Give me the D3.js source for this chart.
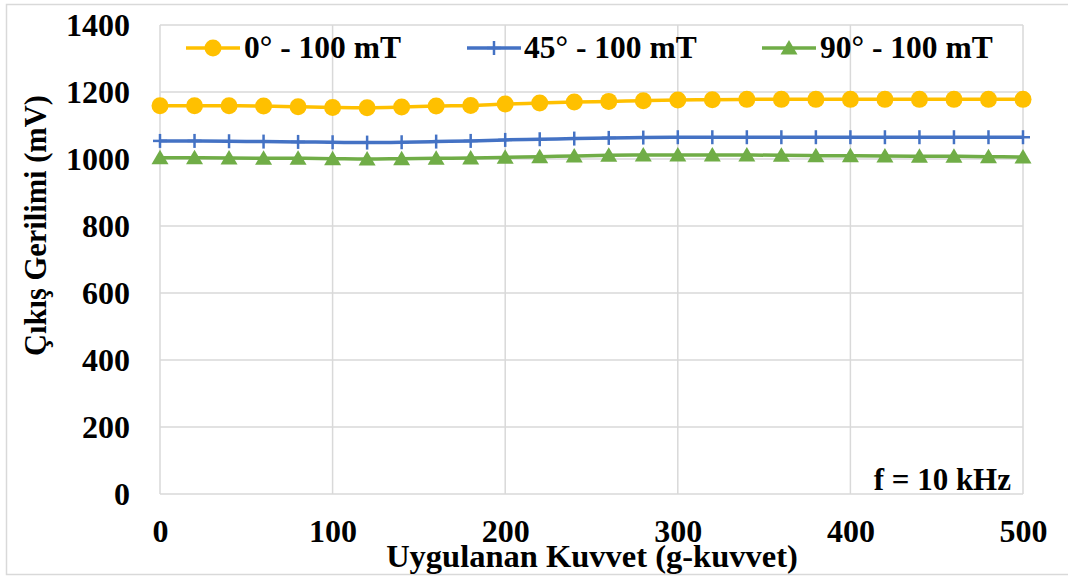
<!DOCTYPE html>
<html>
<head>
<meta charset="utf-8">
<script src="https://cdn.jsdelivr.net/npm/d3@7"></script>
<style>
  html, body { margin: 0; padding: 0; background: #fff; }
</style>
</head>
<body>
<svg id="chart" width="1068" height="576"></svg>
<script>
// Applied force (g-force) and output voltage (mV) for three field orientations
const force = [0, 20, 40, 60, 80, 100, 120, 140, 160, 180, 200, 220, 240, 260, 280, 300,
               320, 340, 360, 380, 400, 420, 440, 460, 480, 500];
const v0deg = [1159, 1159, 1159, 1158, 1156, 1154, 1153, 1155, 1158, 1160, 1164, 1167, 1170,
               1172, 1174, 1176, 1177, 1178, 1178, 1178, 1178, 1178, 1178, 1178, 1178, 1178];
const v45deg = [1054, 1054, 1053, 1052, 1051, 1050, 1049, 1050, 1052, 1054, 1057, 1059, 1061,
                1063, 1064, 1065, 1065, 1065, 1065, 1065, 1065, 1065, 1065, 1065, 1065, 1065];
const v90deg = [1004, 1004, 1003, 1002, 1002, 1001, 1000, 1001, 1002, 1003, 1005, 1007, 1009,
                1011, 1012, 1012, 1012, 1012, 1011, 1010, 1010, 1009, 1008, 1008, 1007, 1006];
const seriesNames = ["0° - 100 mT", "45° - 100 mT", "90° - 100 mT"];
const xTicks = [0, 100, 200, 300, 400, 500];
const yTicks = [0, 200, 400, 600, 800, 1000, 1200, 1400];

const series = [
  { name: seriesNames[0], values: v0deg, color: "#FFC000", marker: "circle" },
  { name: seriesNames[1], values: v45deg, color: "#4472C4", marker: "plus" },
  { name: seriesNames[2], values: v90deg, color: "#70AD47", marker: "triangle" }
];

const FONT = "Liberation Serif";
const svg = d3.select("#chart").attr("font-family", FONT).attr("font-weight", "bold");
const plot = { left: 160, right: 1023, top: 25, bottom: 494 };
const gridColor = "#d9d9d9";

// Outer chart frame
svg.append("rect").attr("x", 6.5).attr("y", 4.5).attr("width", 1080).attr("height", 570)
  .attr("fill", "#fff").attr("stroke", gridColor).attr("stroke-width", 1.5);

const x = d3.scaleLinear().domain([0, 500]).range([plot.left, plot.right]);
const y = d3.scaleLinear().domain([0, 1400]).range([plot.bottom, plot.top]);

// Gridlines
svg.append("g").selectAll("line").data(yTicks).join("line")
  .attr("x1", plot.left).attr("x2", plot.right)
  .attr("y1", d => y(d)).attr("y2", d => y(d))
  .attr("stroke", gridColor).attr("stroke-width", 1.5);
svg.append("g").selectAll("line").data(xTicks).join("line")
  .attr("y1", plot.top).attr("y2", plot.bottom)
  .attr("x1", d => x(d)).attr("x2", d => x(d))
  .attr("stroke", gridColor).attr("stroke-width", 1.5);

function styleTicks(g) {
  g.select(".domain").remove();
  g.attr("font-family", FONT).attr("font-size", 32).attr("font-weight", "bold");
  g.selectAll("text").attr("fill", "#000");
}

// Axes (tick labels only; gridlines drawn separately)
const yAxis = d3.axisLeft(y).tickValues(yTicks).tickFormat(d3.format("d")).tickSize(0).tickPadding(0);
const gy = svg.append("g").attr("transform", "translate(130,0)").call(yAxis).call(styleTicks);
gy.selectAll("text").attr("dy", "0.33em");

const xAxis = d3.axisBottom(x).tickValues(xTicks).tickFormat(d3.format("d")).tickSize(0).tickPadding(0);
const gx = svg.append("g").attr("transform", "translate(0,520)").call(xAxis).call(styleTicks);
gx.selectAll("text").attr("y", 0).attr("dy", "0.68em");

// Axis titles
svg.append("text").attr("x", 592).attr("y", 567).attr("text-anchor", "middle")
  .attr("font-size", 32.5).text("Uygulanan Kuvvet (g-kuvvet)");
svg.append("text").attr("transform", "translate(46,356) rotate(-90)")
  .attr("text-anchor", "start").attr("font-size", 30.5).text("Çıkış Gerilimi (mV)");

// Frequency note
svg.append("text").attr("x", 1011).attr("y", 490).attr("text-anchor", "end")
  .attr("font-size", 31).text("f = 10 kHz");

// Marker drawing helper
function drawMarker(g, type, color, cx, cy) {
  if (type === "circle") {
    g.append("circle").attr("cx", cx).attr("cy", cy).attr("r", 8.5).attr("fill", color);
  } else if (type === "plus") {
    g.append("line").attr("x1", cx).attr("x2", cx).attr("y1", cy - 7).attr("y2", cy + 7)
      .attr("stroke", color).attr("stroke-width", 2.5);
    g.append("line").attr("x1", cx - 7).attr("x2", cx + 7).attr("y1", cy).attr("y2", cy)
      .attr("stroke", color).attr("stroke-width", 2.5);
  } else {
    g.append("path").attr("d", `M${cx},${cy - 8}L${cx + 8.5},${cy + 6.5}L${cx - 8.5},${cy + 6.5}Z`)
      .attr("fill", color);
  }
}

const line = d3.line().x((d, i) => x(force[i])).y(d => y(d)).curve(d3.curveCardinal.tension(0));

series.forEach(s => {
  const g = svg.append("g");
  g.append("path").attr("d", line(s.values)).attr("fill", "none")
    .attr("stroke", s.color).attr("stroke-width", 3.5);
  s.values.forEach((v, i) => drawMarker(g, s.marker, s.color, x(force[i]), y(v)));
});

// Legend
const legendPos = [{ x1: 186, x2: 240, tx: 244 }, { x1: 467, x2: 521, tx: 524 }, { x1: 762, x2: 816, tx: 820 }];
series.forEach((s, i) => {
  const p = legendPos[i];
  const g = svg.append("g");
  g.append("line").attr("x1", p.x1).attr("x2", p.x2).attr("y1", 48).attr("y2", 48)
    .attr("stroke", s.color).attr("stroke-width", 3.5);
  drawMarker(g, s.marker, s.color, (p.x1 + p.x2) / 2, 48);
  g.append("text").attr("x", p.tx).attr("y", 58).attr("font-size", 31.5).text(s.name);
});
</script>
</body>
</html>
